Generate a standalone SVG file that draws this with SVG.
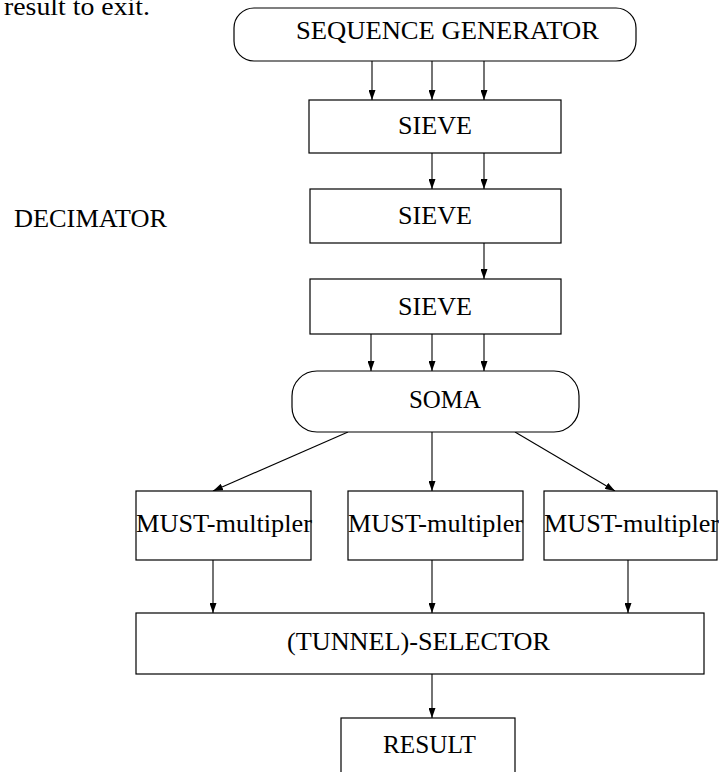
<svg xmlns="http://www.w3.org/2000/svg" width="719" height="772" viewBox="0 0 719 772">
  <defs>
    <marker id="arr" markerWidth="10" markerHeight="7" refX="10" refY="3.5" orient="auto" markerUnits="userSpaceOnUse">
      <path d="M0,0 L10,3.5 L0,7 z" fill="#000"/>
    </marker>
    <style>
      .box { fill: #fff; stroke: #000; stroke-width: 1.2; }
      .t { font-family: "Liberation Serif", "Times New Roman", serif; font-size: 25px; fill: #000; }
      .c { stroke: #000; stroke-width: 1.1; fill: none; marker-end: url(#arr); }
    </style>
  </defs>
  <rect width="719" height="772" fill="#fff"/>

  <text class="t" x="150" y="15" text-anchor="end" textLength="146" lengthAdjust="spacingAndGlyphs">result to exit.</text>
  <text id="decimator" class="t" x="14" y="227" textLength="153" lengthAdjust="spacingAndGlyphs">DECIMATOR</text>

  <g id="connectors">
    <line class="c" x1="372" y1="61" x2="372" y2="100"/>
    <line class="c" x1="432" y1="61" x2="432" y2="100"/>
    <line class="c" x1="484" y1="61" x2="484" y2="100"/>
    <line class="c" x1="432" y1="153" x2="432" y2="189"/>
    <line class="c" x1="484" y1="153" x2="484" y2="189"/>
    <line class="c" x1="484" y1="243" x2="484" y2="279"/>
    <line class="c" x1="371" y1="334" x2="371" y2="371"/>
    <line class="c" x1="432" y1="334" x2="432" y2="371"/>
    <line class="c" x1="484" y1="334" x2="484" y2="371"/>
    <line class="c" x1="348" y1="432" x2="213" y2="491"/>
    <line class="c" x1="432" y1="432" x2="432" y2="491"/>
    <line class="c" x1="515" y1="432" x2="615" y2="491"/>
    <line class="c" x1="213" y1="560" x2="213" y2="613"/>
    <line class="c" x1="432" y1="560" x2="432" y2="613"/>
    <line class="c" x1="628" y1="560" x2="628" y2="613"/>
    <line class="c" x1="432" y1="674" x2="432" y2="718"/>
  </g>

  <g id="sequence-generator">
    <rect class="box" x="234" y="8" width="402" height="53" rx="20" ry="20"/>
    <text class="t" x="296" y="39" textLength="303" lengthAdjust="spacingAndGlyphs">SEQUENCE GENERATOR</text>
  </g>
  <g id="sieve1">
    <rect class="box" x="309" y="100" width="252" height="53"/>
    <text class="t" x="398" y="134" textLength="74" lengthAdjust="spacingAndGlyphs">SIEVE</text>
  </g>
  <g id="sieve2">
    <rect class="box" x="310" y="189" width="251" height="54"/>
    <text class="t" x="398" y="224" textLength="74" lengthAdjust="spacingAndGlyphs">SIEVE</text>
  </g>
  <g id="sieve3">
    <rect class="box" x="310" y="279" width="251" height="55"/>
    <text class="t" x="398" y="315" textLength="74" lengthAdjust="spacingAndGlyphs">SIEVE</text>
  </g>
  <g id="soma">
    <rect class="box" x="292" y="371" width="287" height="61" rx="25" ry="25"/>
    <text class="t" x="409" y="408" textLength="72" lengthAdjust="spacingAndGlyphs">SOMA</text>
  </g>
  <g id="must1">
    <rect class="box" x="136" y="491" width="175" height="69"/>
    <text class="t" x="136" y="532" textLength="176" lengthAdjust="spacingAndGlyphs">MUST-multipler</text>
  </g>
  <g id="must2">
    <rect class="box" x="348" y="491" width="175" height="69"/>
    <text class="t" x="348" y="532" textLength="175" lengthAdjust="spacingAndGlyphs">MUST-multipler</text>
  </g>
  <g id="must3">
    <rect class="box" x="544" y="491" width="173" height="69"/>
    <text class="t" x="544" y="532" textLength="175" lengthAdjust="spacingAndGlyphs">MUST-multipler</text>
  </g>
  <g id="tunnel-selector">
    <rect class="box" x="136" y="613" width="568" height="61"/>
    <text class="t" x="287" y="650" textLength="263" lengthAdjust="spacingAndGlyphs">(TUNNEL)-SELECTOR</text>
  </g>
  <g id="result">
    <rect class="box" x="341" y="718" width="174" height="70"/>
    <text class="t" x="383" y="753" textLength="93" lengthAdjust="spacingAndGlyphs">RESULT</text>
  </g>
</svg>
